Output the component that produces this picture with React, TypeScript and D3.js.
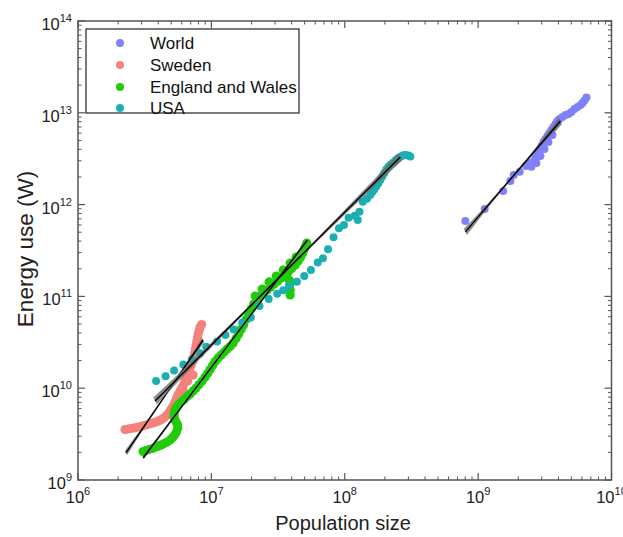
import React from 'react';
import * as d3 from 'd3';

// ---- Data ----
const seriesNames = ['World', 'Sweden', 'England and Wales', 'USA'];
const seriesColors = ['#8080F8', '#F5817C', '#20CC08', '#1BAFB1'];

const xTickExps = [6, 7, 8, 9, 10];
const yTickExps = [9, 10, 11, 12, 13, 14];

const worldPop = [8.02e8, 1.12e9, 1.539e9, 1.746e9, 1.849e9, 2.05e9, 2.29e9, 2.509e9, 2.424e9, 2.597e9, 2.689e9, 2.736e9, 2.784e9, 2.882e9, 2.932e9, 2.983e9, 3.088e9, 3.142e9, 3.197e9, 3.309e9, 3.367e9, 3.426e9, 3.546e9, 3.608e9, 3.671e9, 3.8e9, 3.933e9, 4.072e9, 4.288e9, 4.517e9, 4.757e9, 5.01e9, 5.277e9, 5.558e9, 5.854e9, 6.06e9, 6.273e9, 6.493e9];
const worldEnergy = [6.63e11, 8.96e11, 1.407e12, 1.807e12, 2.101e12, 2.283e12, 2.633e12, 2.587e12, 2.84e12, 2.934e12, 3.219e12, 2.84e12, 3.558e12, 3.933e12, 3.383e12, 4.348e12, 4.808e12, 4.034e12, 5.183e12, 5.589e12, 4.808e12, 6.026e12, 6.496e12, 5.73e12, 7.004e12, 7.551e12, 8.142e12, 8.561e12, 9.001e12, 9.463e12, 9.703e12, 1.02e13, 1.1e13, 1.157e13, 1.216e13, 1.279e13, 1.361e13, 1.468e13];

const swedenPop = [2.25e6, 2.372e6, 2.498e6, 2.632e6, 2.772e6, 2.92e6, 3.075e6, 3.238e6, 3.411e6, 3.592e6, 3.784e6, 3.986e6, 4.197e6, 4.42e6, 4.616e6, 4.778e6, 4.928e6, 5.076e6, 5.218e6, 5.346e6, 5.487e6, 5.632e6, 5.829e6, 6.034e6, 6.224e6, 6.354e6, 6.522e6, 6.692e6, 6.867e6, 7.047e6, 7.232e6, 7.358e6, 7.486e6, 7.591e6, 7.683e6, 7.79e6, 7.885e6, 7.995e6, 8.121e6, 8.235e6, 8.45e6, 6.12e6, 6.63e6, 7.29e6];
const swedenEnergy = [3.548e9, 3.593e9, 3.639e9, 3.685e9, 3.751e9, 3.807e9, 3.894e9, 3.973e9, 4.074e9, 4.157e9, 4.251e9, 4.37e9, 4.538e9, 4.76e9, 5.041e9, 5.369e9, 5.715e9, 6.133e9, 6.596e9, 7.128e9, 7.819e9, 8.54e9, 9.322e9, 1.018e10, 1.112e10, 1.214e10, 1.324e10, 1.464e10, 1.598e10, 1.768e10, 1.954e10, 2.16e10, 2.418e10, 2.673e10, 2.955e10, 3.267e10, 3.613e10, 3.963e10, 4.305e10, 4.642e10, 4.942e10, 9.8e9, 1.2e10, 1.39e10];

const englandPop = [3.075e6, 3.238e6, 3.411e6, 3.592e6, 3.784e6, 3.986e6, 4.197e6, 4.42e6, 4.655e6, 4.903e6, 5.12e6, 5.3e6, 5.469e6, 5.583e6, 5.583e6, 5.44e6, 5.3e6, 5.254e6, 5.272e6, 5.346e6, 5.487e6, 5.68e6, 5.929e6, 6.245e6, 6.577e6, 6.927e6, 7.295e6, 7.683e6, 8.093e6, 8.524e6, 8.977e6, 9.374e6, 9.786e6, 1.022e7, 1.067e7, 1.124e7, 1.184e7, 1.247e7, 1.313e7, 1.382e7, 1.456e7, 1.533e7, 1.602e7, 1.673e7, 1.746e7, 1.823e7, 1.904e7, 1.988e7, 2.075e7, 2.186e7, 2.322e7, 2.466e7, 2.62e7, 2.784e7, 2.958e7, 3.143e7, 3.338e7, 3.546e7, 3.767e7, 4.003e7, 4.251e7, 4.477e7, 4.676e7, 4.84e7, 4.969e7, 5.099e7, 5.188e7, 2.129e7, 2.404e7, 2.712e7, 3.062e7, 3.456e7, 3.899e7, 4.325e7, 3.832e7, 3.866e7, 3.899e7, 3.899e7];
const englandEnergy = [2.044e9, 2.096e9, 2.149e9, 2.203e9, 2.271e9, 2.334e9, 2.406e9, 2.498e9, 2.594e9, 2.728e9, 2.904e9, 3.091e9, 3.334e9, 3.639e9, 3.973e9, 4.283e9, 4.619e9, 4.98e9, 5.369e9, 5.788e9, 6.241e9, 6.644e9, 7.073e9, 7.532e9, 8.121e9, 8.647e9, 9.322e9, 1.005e10, 1.097e10, 1.198e10, 1.324e10, 1.446e10, 1.598e10, 1.768e10, 1.954e10, 2.133e10, 2.3e10, 2.48e10, 2.673e10, 2.846e10, 3.107e10, 3.478e10, 3.894e10, 4.36e10, 4.88e10, 5.603e10, 6.431e10, 7.292e10, 8.263e10, 9.253e10, 1.01e11, 1.089e11, 1.174e11, 1.266e11, 1.365e11, 1.472e11, 1.586e11, 1.711e11, 1.844e11, 2.013e11, 2.198e11, 2.43e11, 2.687e11, 2.971e11, 3.244e11, 3.54e11, 3.817e11, 1.01e11, 1.204e11, 1.436e11, 1.668e11, 1.939e11, 2.311e11, 2.687e11, 1.509e11, 1.331e11, 1.174e11, 1.036e11];

const usaPop = [3.85e6, 4.536e6, 5.254e6, 6.17e6, 7.135e6, 8.235e6, 9.15e6, 1.104e7, 1.275e7, 1.469e7, 1.702e7, 1.977e7, 2.294e7, 2.689e7, 3.115e7, 3.456e7, 3.832e7, 4.377e7, 4.969e7, 5.577e7, 6.271e7, 6.862e7, 7.494e7, 8.242e7, 9.046e7, 9.863e7, 1.068e8, 1.189e8, 1.252e8, 1.289e8, 1.365e8, 1.468e8, 1.554e8, 1.608e8, 1.665e8, 1.724e8, 1.784e8, 1.847e8, 1.912e8, 1.979e8, 2.048e8, 2.121e8, 2.214e8, 2.312e8, 2.414e8, 2.521e8, 2.632e8, 2.748e8, 2.87e8, 2.996e8, 3.101e8];
const usaEnergy = [1.198e10, 1.348e10, 1.559e10, 1.812e10, 2.07e10, 2.4e10, 2.832e10, 3.226e10, 3.797e10, 4.36e10, 5.17e10, 5.892e10, 7.86e10, 9.369e10, 1.07e11, 1.165e11, 1.304e11, 1.446e11, 1.668e11, 1.939e11, 2.341e11, 2.6e11, 3.26e11, 4.403e11, 5.518e11, 5.995e11, 7.182e11, 7.551e11, 6.796e11, 8.369e11, 1.075e12, 1.157e12, 1.272e12, 1.372e12, 1.46e12, 1.575e12, 1.698e12, 1.853e12, 2.024e12, 2.209e12, 2.413e12, 2.581e12, 2.734e12, 2.875e12, 3.061e12, 3.219e12, 3.342e12, 3.443e12, 3.47e12, 3.426e12, 3.342e12];

// Power-law fit lines: [start, end]
const fitWorldPop = [8.02e8, 4.14e9];
const fitWorldEnergy = [5.04e11, 8.15e12];
const fitSwedenPop = [2.29e6, 8.67e6];
const fitSwedenEnergy = [1.97e9, 3.35e10];
const fitEnglandPop = [3.08e6, 5.24e7];
const fitEnglandEnergy = [1.74e9, 4.11e11];
const fitUsaPop = [3.78e6, 2.61e8];
const fitUsaEnergy = [7.26e9, 3.3e12];

const W = 623;
const H = 537;
const L = 78, R = 611.5, T = 21, B = 480;

const x = d3.scaleLog().domain([1e6, 1e10]).range([L, R]);
const y = d3.scaleLog().domain([1e9, 1e14]).range([B, T]);

const FONT = '"Liberation Sans", Arial, sans-serif';
const AXIS = '#555';

export default function App() {
  const series = [
    { pop: worldPop, energy: worldEnergy, color: seriesColors[0], r: 4 },
    { pop: swedenPop, energy: swedenEnergy, color: seriesColors[1], r: 4.6 },
    { pop: englandPop, energy: englandEnergy, color: seriesColors[2], r: 4.6 },
    { pop: usaPop, energy: usaEnergy, color: seriesColors[3], r: 4 },
  ];
  const fits = [
    { pop: fitWorldPop, energy: fitWorldEnergy, band: 3.2 },
    { pop: fitSwedenPop, energy: fitSwedenEnergy, band: 2.2 },
    { pop: fitEnglandPop, energy: fitEnglandEnergy, band: 1.4 },
    { pop: fitUsaPop, energy: fitUsaEnergy, band: 3.5 },
  ];

  const xMinor: number[] = [];
  for (let e = 6; e < 10; e++) for (let m = 2; m <= 9; m++) xMinor.push(m * Math.pow(10, e));
  const yMinor: number[] = [];
  for (let e = 9; e < 14; e++) for (let m = 2; m <= 9; m++) yMinor.push(m * Math.pow(10, e));

  const bandPath = (f: { pop: number[]; energy: number[]; band: number }) => {
    const x0 = x(f.pop[0]), x1 = x(f.pop[1]);
    const y0 = y(f.energy[0]), y1 = y(f.energy[1]);
    const N = 24;
    const up: [number, number][] = [];
    const dn: [number, number][] = [];
    for (let i = 0; i <= N; i++) {
      const t = i / N;
      const px = x0 + (x1 - x0) * t;
      const py = y0 + (y1 - y0) * t;
      const h = f.band * (0.25 + 0.75 * Math.pow(2 * t - 1, 2));
      up.push([px - h * 0.5, py - h]);
      dn.push([px + h * 0.5, py + h]);
    }
    const pts = up.concat(dn.reverse());
    return d3.line()(pts) + 'Z';
  };

  const legendRows = [43, 65, 87, 108];

  return (
    <svg width={W} height={H} style={{ position: 'absolute', left: 0, top: 0, background: '#fff' }} fontFamily={FONT}>
      <rect x={0} y={0} width={W} height={H} fill="#fff" />
      {/* data points */}
      {series.map((s, si) => (
        <g key={si} fill={s.color}>
          {s.pop.map((p, i) => (
            <circle key={i} cx={x(p)} cy={y(s.energy[i])} r={s.r} />
          ))}
        </g>
      ))}
      {/* fits */}
      {fits.map((f, i) => (
        <g key={i}>
          <path d={bandPath(f)} fill="#6a6a6a" opacity={0.75} />
          <line x1={x(f.pop[0])} y1={y(f.energy[0])} x2={x(f.pop[1])} y2={y(f.energy[1])} stroke="#000" strokeWidth={1.4} />
        </g>
      ))}
      {/* frame */}
      <rect x={L} y={T} width={R - L} height={B - T} fill="none" stroke={AXIS} strokeWidth={1.5} />
      {/* x ticks */}
      {xTickExps.map((e) => {
        const px = x(Math.pow(10, e));
        return (
          <g key={'xt' + e}>
            <line x1={px} x2={px} y1={B} y2={B - 7} stroke={AXIS} strokeWidth={1.2} />
            <line x1={px} x2={px} y1={T} y2={T + 7} stroke={AXIS} strokeWidth={1.2} />
            <text x={px} y={503} textAnchor="middle" fontSize={16.5} fill="#222">
              10<tspan dy={-8} fontSize={11}>{e}</tspan>
            </text>
          </g>
        );
      })}
      {xMinor.map((v, i) => (
        <g key={'xm' + i}>
          <line x1={x(v)} x2={x(v)} y1={B} y2={B - 3.5} stroke={AXIS} strokeWidth={1} />
          <line x1={x(v)} x2={x(v)} y1={T} y2={T + 3.5} stroke={AXIS} strokeWidth={1} />
        </g>
      ))}
      {/* y ticks */}
      {yTickExps.map((e) => {
        const py = y(Math.pow(10, e));
        return (
          <g key={'yt' + e}>
            <line x1={L} x2={L + 7} y1={py} y2={py} stroke={AXIS} strokeWidth={1.2} />
            <line x1={R} x2={R - 7} y1={py} y2={py} stroke={AXIS} strokeWidth={1.2} />
            <text x={72} y={py + 9} textAnchor="end" fontSize={16.5} fill="#222">
              10<tspan dy={-8} fontSize={11}>{e}</tspan>
            </text>
          </g>
        );
      })}
      {yMinor.map((v, i) => (
        <g key={'ym' + i}>
          <line x1={L} x2={L + 3.5} y1={y(v)} y2={y(v)} stroke={AXIS} strokeWidth={1} />
          <line x1={R} x2={R - 3.5} y1={y(v)} y2={y(v)} stroke={AXIS} strokeWidth={1} />
        </g>
      ))}
      {/* axis titles */}
      <text x={343} y={530} textAnchor="middle" fontSize={20} fill="#222">Population size</text>
      <text transform="translate(33,249) rotate(-90)" textAnchor="middle" fontSize={22.5} fill="#222">Energy use (W)</text>
      {/* legend */}
      <rect x={86} y={29} width={213} height={84} fill="#fff" stroke="#333" strokeWidth={1.3} />
      {seriesNames.map((n, i) => (
        <g key={n}>
          <circle cx={120} cy={legendRows[i]} r={4} fill={seriesColors[i]} />
          <text x={150} y={legendRows[i] + 6} fontSize={17} fill="#111">{n}</text>
        </g>
      ))}
    </svg>
  );
}
